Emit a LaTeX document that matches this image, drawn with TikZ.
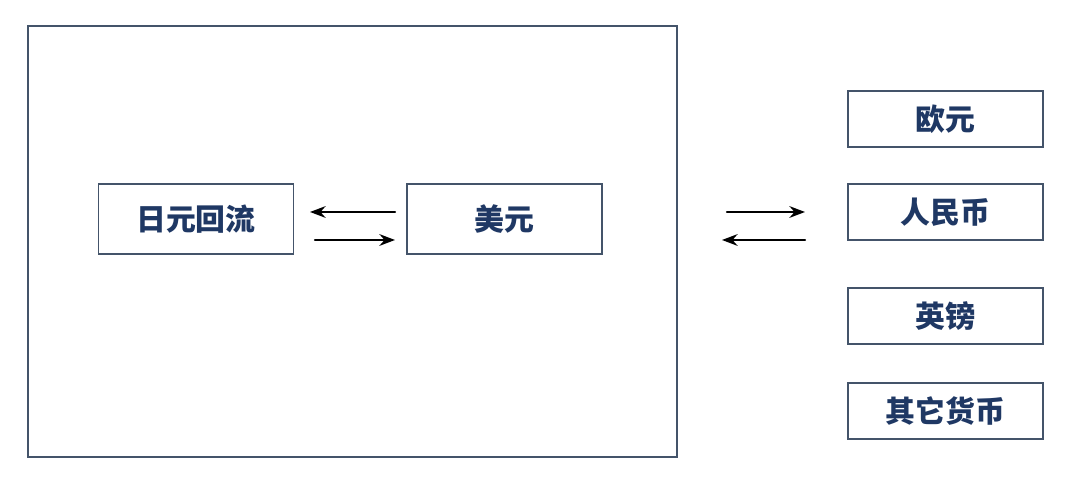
\documentclass[tikz,border=0pt]{standalone}
\usepackage{fontspec}
\newfontfamily\cjk{Noto Sans CJK SC}
\usetikzlibrary{arrows.meta}
\definecolor{navy}{HTML}{1F3864}
\definecolor{frame}{HTML}{44546A}
\tikzset{>=Stealth,
  curbox/.style={draw=frame,thick,minimum width=3.9cm,inner sep=0pt,
    font=\cjk\bfseries\fontsize{17}{20}\selectfont,text=navy},
  flow/.style={->,line width=1.3pt}}
\begin{document}
\begin{tikzpicture}[x=0.02cm,y=-0.02cm,line cap=round]
  \useasboundingbox (0,0) rectangle (1080,482);

  \draw [frame,thick] (28,26) rectangle (677,457);

  \node [curbox,minimum height=1.4cm] (yen) at (196,219) {日元回流};
  \node [curbox,minimum height=1.4cm] (usd) at (504.5,219) {美元};

  \node [curbox,minimum height=1.12cm] (eur) at (945.5,119) {欧元};
  \node [curbox,minimum height=1.12cm] (cny) at (945.5,212) {人民币};
  \node [curbox,minimum height=1.12cm] (gbp) at (945.5,316) {英镑};
  \node [curbox,minimum height=1.12cm] (oth) at (945.5,411) {其它货币};

  % inside the frame
  \coordinate (a1) at (395,212);
  \coordinate (a2) at (310,212);
  \coordinate (b1) at (315,240);
  \coordinate (b2) at (395,240);
  \draw [flow] (a1) -- (a2);
  \draw [flow] (b1) -- (b2);

  % to the other currencies
  \coordinate (c1) at (727,212);
  \coordinate (c2) at (805,212);
  \coordinate (d1) at (805,240);
  \coordinate (d2) at (722,240);
  \draw [flow] (c1) -- (c2);
  \draw [flow] (d1) -- (d2);
\end{tikzpicture}
\end{document}
